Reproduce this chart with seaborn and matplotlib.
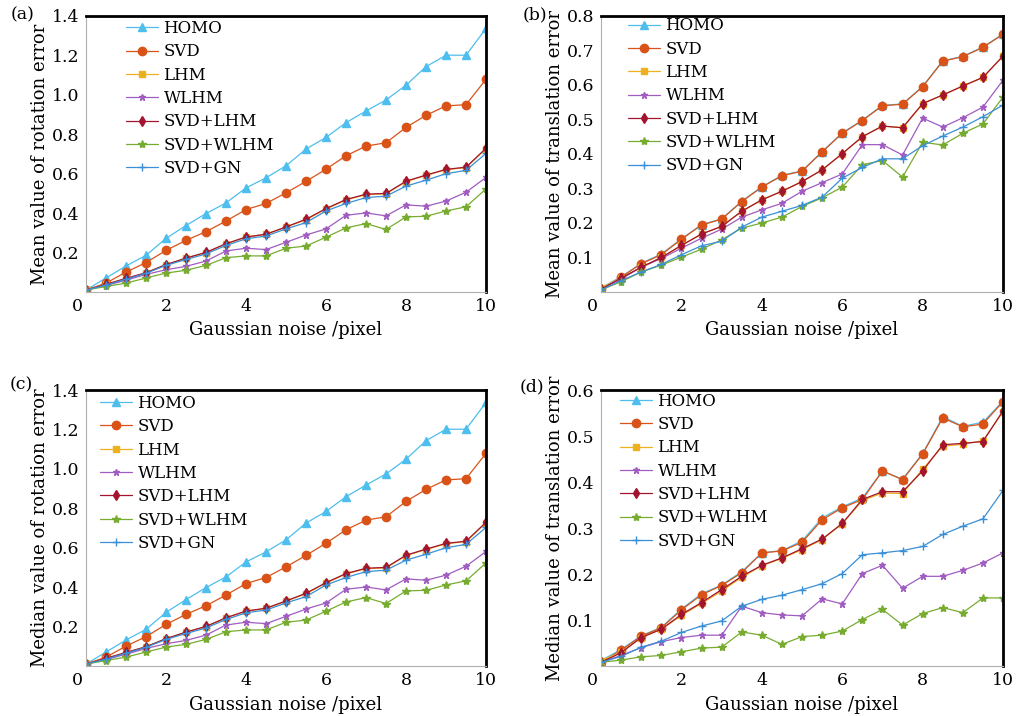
import numpy as np
import matplotlib
matplotlib.use('Agg')
import matplotlib.pyplot as plt
import seaborn as sns

# noise levels (pixel)
noise = [0.0, 0.5, 1.0, 1.5, 2.0, 2.5, 3.0, 3.5, 4.0, 4.5, 5.0,
         5.5, 6.0, 6.5, 7.0, 7.5, 8.0, 8.5, 9.0, 9.5, 10.0]

methods = ['HOMO', 'SVD', 'LHM', 'WLHM', 'SVD+LHM', 'SVD+WLHM', 'SVD+GN']

# (a) mean rotation error
rot_mean_homo = [0.01, 0.071, 0.132, 0.186, 0.272, 0.337, 0.398, 0.452, 0.528, 0.579, 0.640,
                 0.725, 0.784, 0.859, 0.918, 0.974, 1.049, 1.143, 1.201, 1.201, 1.337]
rot_mean_svd = [0.01, 0.045, 0.101, 0.149, 0.211, 0.262, 0.306, 0.360, 0.418, 0.449, 0.503,
                0.561, 0.623, 0.691, 0.740, 0.757, 0.835, 0.896, 0.944, 0.950, 1.079]
rot_mean_lhm = [0.01, 0.038, 0.068, 0.097, 0.138, 0.171, 0.200, 0.244, 0.278, 0.292, 0.329,
                0.367, 0.421, 0.467, 0.494, 0.498, 0.560, 0.591, 0.620, 0.631, 0.727]
rot_mean_wlhm = [0.01, 0.033, 0.060, 0.089, 0.113, 0.130, 0.157, 0.208, 0.222, 0.215, 0.252,
                 0.289, 0.320, 0.389, 0.401, 0.386, 0.442, 0.435, 0.461, 0.506, 0.581]
rot_mean_svdlhm = [0.01, 0.039, 0.069, 0.098, 0.139, 0.172, 0.201, 0.245, 0.279, 0.293, 0.330,
                   0.369, 0.423, 0.469, 0.496, 0.500, 0.562, 0.593, 0.622, 0.633, 0.729]
rot_mean_svdwlhm = [0.01, 0.028, 0.045, 0.071, 0.096, 0.110, 0.135, 0.174, 0.183, 0.183, 0.222,
                    0.233, 0.278, 0.325, 0.347, 0.317, 0.381, 0.384, 0.411, 0.432, 0.523]
rot_mean_svdgn = [0.01, 0.035, 0.065, 0.095, 0.135, 0.165, 0.193, 0.236, 0.270, 0.284, 0.320,
                  0.352, 0.411, 0.449, 0.479, 0.486, 0.537, 0.567, 0.600, 0.617, 0.703]

# (b) mean translation error
tr_mean_homo = [0.012, 0.044, 0.083, 0.110, 0.154, 0.195, 0.212, 0.263, 0.305, 0.338, 0.351,
                0.407, 0.461, 0.498, 0.541, 0.545, 0.596, 0.670, 0.683, 0.710, 0.748]
tr_mean_svd = [0.008, 0.043, 0.082, 0.108, 0.153, 0.194, 0.211, 0.262, 0.304, 0.337, 0.350,
               0.406, 0.460, 0.497, 0.540, 0.544, 0.595, 0.669, 0.682, 0.709, 0.747]
tr_mean_lhm = [0.012, 0.040, 0.072, 0.100, 0.135, 0.168, 0.190, 0.234, 0.267, 0.292, 0.320,
               0.354, 0.401, 0.450, 0.481, 0.476, 0.546, 0.571, 0.597, 0.622, 0.684]
tr_mean_wlhm = [0.008, 0.038, 0.072, 0.097, 0.127, 0.156, 0.182, 0.217, 0.238, 0.257, 0.292,
                0.317, 0.342, 0.427, 0.427, 0.397, 0.504, 0.478, 0.505, 0.536, 0.614]
tr_mean_svdlhm = [0.008, 0.040, 0.072, 0.100, 0.135, 0.168, 0.190, 0.234, 0.267, 0.292, 0.320,
                  0.354, 0.401, 0.450, 0.481, 0.476, 0.546, 0.571, 0.597, 0.622, 0.684]
tr_mean_svdwlhm = [0.006, 0.030, 0.058, 0.078, 0.101, 0.124, 0.151, 0.185, 0.200, 0.217, 0.248,
                   0.273, 0.304, 0.369, 0.381, 0.333, 0.434, 0.426, 0.460, 0.487, 0.565]
tr_mean_svdgn = [0.006, 0.033, 0.058, 0.080, 0.108, 0.134, 0.147, 0.188, 0.217, 0.234, 0.251,
                 0.275, 0.330, 0.361, 0.386, 0.386, 0.424, 0.452, 0.478, 0.508, 0.542]

# (c) median rotation error
rot_med_homo = [0.01, 0.071, 0.132, 0.186, 0.272, 0.337, 0.398, 0.452, 0.528, 0.579, 0.640,
                0.725, 0.784, 0.859, 0.918, 0.974, 1.049, 1.143, 1.201, 1.201, 1.337]
rot_med_svd = [0.01, 0.045, 0.101, 0.149, 0.211, 0.262, 0.306, 0.360, 0.418, 0.449, 0.503,
               0.561, 0.623, 0.691, 0.740, 0.757, 0.835, 0.896, 0.944, 0.950, 1.079]
rot_med_lhm = [0.01, 0.038, 0.068, 0.097, 0.138, 0.171, 0.200, 0.244, 0.278, 0.292, 0.329,
               0.367, 0.421, 0.467, 0.494, 0.498, 0.560, 0.591, 0.620, 0.631, 0.727]
rot_med_wlhm = [0.01, 0.033, 0.060, 0.089, 0.113, 0.130, 0.157, 0.208, 0.222, 0.215, 0.252,
                0.289, 0.320, 0.389, 0.401, 0.386, 0.442, 0.435, 0.461, 0.506, 0.581]
rot_med_svdlhm = [0.01, 0.039, 0.069, 0.098, 0.139, 0.172, 0.201, 0.245, 0.279, 0.293, 0.330,
                  0.369, 0.423, 0.469, 0.496, 0.500, 0.562, 0.593, 0.622, 0.633, 0.729]
rot_med_svdwlhm = [0.01, 0.028, 0.045, 0.071, 0.096, 0.110, 0.135, 0.174, 0.183, 0.183, 0.222,
                   0.233, 0.278, 0.325, 0.347, 0.317, 0.381, 0.384, 0.411, 0.432, 0.523]
rot_med_svdgn = [0.01, 0.035, 0.065, 0.095, 0.135, 0.165, 0.193, 0.236, 0.270, 0.284, 0.320,
                 0.352, 0.411, 0.449, 0.479, 0.486, 0.537, 0.567, 0.600, 0.617, 0.703]

# (d) median translation error
tr_med_homo = [0.012, 0.036, 0.066, 0.084, 0.124, 0.157, 0.176, 0.205, 0.246, 0.251, 0.272,
               0.322, 0.346, 0.365, 0.424, 0.406, 0.462, 0.542, 0.521, 0.530, 0.576]
tr_med_svd = [0.009, 0.034, 0.065, 0.083, 0.122, 0.155, 0.175, 0.203, 0.246, 0.250, 0.269,
              0.318, 0.344, 0.362, 0.424, 0.405, 0.461, 0.539, 0.520, 0.526, 0.575]
tr_med_lhm = [0.012, 0.030, 0.062, 0.080, 0.110, 0.136, 0.163, 0.193, 0.218, 0.234, 0.253,
              0.275, 0.309, 0.360, 0.376, 0.375, 0.428, 0.478, 0.482, 0.490, 0.553]
tr_med_wlhm = [0.008, 0.023, 0.040, 0.053, 0.062, 0.067, 0.067, 0.130, 0.116, 0.111, 0.109,
               0.146, 0.135, 0.201, 0.219, 0.169, 0.195, 0.195, 0.208, 0.224, 0.246]
tr_med_svdlhm = [0.008, 0.029, 0.062, 0.080, 0.112, 0.138, 0.166, 0.195, 0.219, 0.235, 0.255,
                 0.276, 0.310, 0.362, 0.379, 0.379, 0.424, 0.481, 0.484, 0.488, 0.555]
tr_med_svdwlhm = [0.008, 0.013, 0.020, 0.023, 0.031, 0.039, 0.041, 0.074, 0.067, 0.047, 0.064,
                  0.067, 0.076, 0.101, 0.123, 0.089, 0.114, 0.127, 0.116, 0.148, 0.148]
tr_med_svdgn = [0.008, 0.021, 0.041, 0.054, 0.073, 0.087, 0.098, 0.130, 0.145, 0.154, 0.166,
                0.179, 0.201, 0.242, 0.246, 0.251, 0.260, 0.286, 0.304, 0.320, 0.382]

colors = ['#4DBEEE', '#D95319', '#EDB120', '#A05CC0', '#A2142F', '#77AC30', '#3A8FD6']
markers = ['^', 'o', 's', '*', 'd', '*', '+']
msizes = [6, 6, 5, 5, 5.5, 6, 6]

sns.set_style('white')
plt.rcParams['font.family'] = ['DejaVu Serif']
plt.rcParams['font.size'] = 12
for key in ['text.color', 'axes.labelcolor', 'xtick.color', 'ytick.color']:
    plt.rcParams[key] = 'black'

fig = plt.figure(figsize=(10.17, 7.16), dpi=100)

panels = [
    ('(a)', [0.0846, 0.5922, 0.3933, 0.3855],
     [rot_mean_homo, rot_mean_svd, rot_mean_lhm, rot_mean_wlhm, rot_mean_svdlhm, rot_mean_svdwlhm, rot_mean_svdgn],
     'Mean value of rotation error', 1.4, np.arange(0.2, 1.41, 0.2), (0.10, 0.985), (0.022, 0.979)),
    ('(b)', [0.591, 0.5922, 0.3953, 0.3855],
     [tr_mean_homo, tr_mean_svd, tr_mean_lhm, tr_mean_wlhm, tr_mean_svdlhm, tr_mean_svdwlhm, tr_mean_svdgn],
     'Mean value of translation error', 0.8, np.arange(0.1, 0.81, 0.1), (0.067, 0.995), (0.526, 0.979)),
    ('(c)', [0.0846, 0.0698, 0.3933, 0.3855],
     [rot_med_homo, rot_med_svd, rot_med_lhm, rot_med_wlhm, rot_med_svdlhm, rot_med_svdwlhm, rot_med_svdgn],
     'Median value of rotation error', 1.4, np.arange(0.2, 1.41, 0.2), (0.035, 0.982), (0.021, 0.462)),
    ('(d)', [0.591, 0.0698, 0.3953, 0.3855],
     [tr_med_homo, tr_med_svd, tr_med_lhm, tr_med_wlhm, tr_med_svdlhm, tr_med_svdwlhm, tr_med_svdgn],
     'Median value of translation error', 0.6, np.arange(0.1, 0.61, 0.1), (0.047, 0.99), (0.523, 0.459)),
]

for tag, rect, series, ylab, ymax, yticks, leg_xy, tag_xy in panels:
    ax = fig.add_axes(rect)
    for name, vals, c, m, ms in zip(methods, series, colors, markers, msizes):
        sns.lineplot(x=noise, y=vals, color=c, marker=m, markersize=ms,
                     markeredgecolor=c, markeredgewidth=1.0, linewidth=0.9,
                     label=name, ax=ax)
    ax.set_xlim(0, 10)
    ax.set_ylim(0, ymax)
    ax.set_xticks([2, 4, 6, 8, 10])
    ax.set_yticks(yticks)
    ax.set_yticklabels(['%.1f' % t for t in yticks])
    ax.tick_params(length=0, labelsize=12.5)
    ax.tick_params(axis='x', pad=4)
    ax.tick_params(axis='y', pad=5)
    ax.text(-0.022, -0.02, '0', transform=ax.transAxes, ha='center', va='top', fontsize=12.5)
    ax.set_xlabel('Gaussian noise /pixel', fontsize=13, labelpad=5)
    ax.set_ylabel(ylab, fontsize=13, labelpad=2)
    for s in ['top', 'right']:
        ax.spines[s].set_color('black')
        ax.spines[s].set_linewidth(2.0)
    for s in ['left', 'bottom']:
        ax.spines[s].set_color('#b0b0b0')
        ax.spines[s].set_linewidth(0.8)
    ax.legend(loc='upper left', bbox_to_anchor=leg_xy, frameon=False, fontsize=12,
              borderpad=0, borderaxespad=0, handlelength=1.9, handletextpad=0.35,
              labelspacing=0.38)
    fig.text(tag_xy[0], tag_xy[1], tag, ha='center', va='center', fontsize=12.5)

fig.savefig('out.png', dpi=100)
